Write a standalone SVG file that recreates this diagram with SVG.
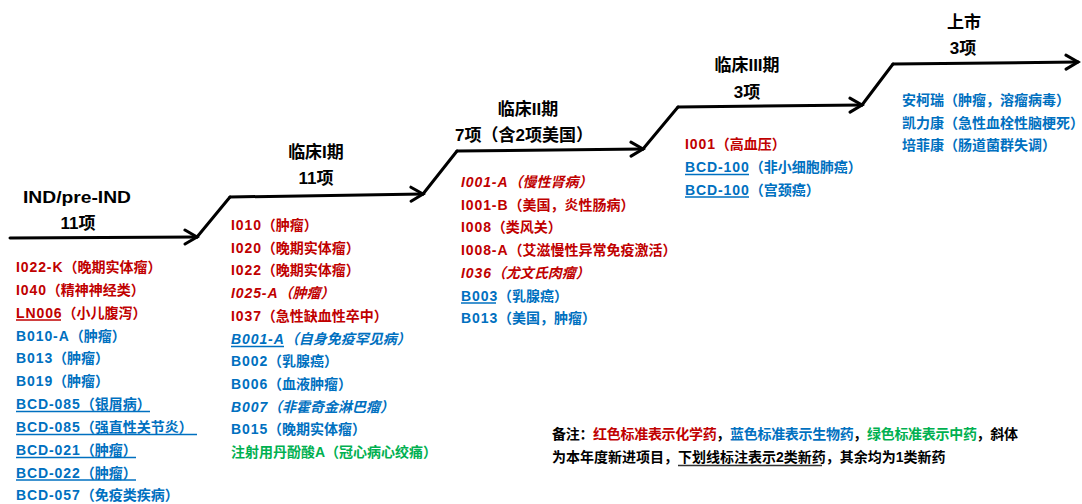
<svg xmlns="http://www.w3.org/2000/svg" width="1082" height="504" viewBox="0 0 1082 504">
<style>
text{font-family:"Liberation Sans","Noto Sans CJK SC",sans-serif;font-weight:bold;}
.h{font-size:17px;fill:#000;text-anchor:middle;}
.t{font-size:14px;}
.c{letter-spacing:0.9px;}
.r{fill:#c00000;}
.b{fill:#0070c0;}
.g{fill:#00b050;}
.k{fill:#000;}
.i{font-style:italic;}
.ul{stroke-width:1.3;}
.ur{stroke:#c00000;}
.ub{stroke:#0070c0;}
.uk{stroke:#333;}
</style>
<defs>
<marker id="arr" markerUnits="userSpaceOnUse" markerWidth="18" markerHeight="18" refX="14" refY="9" orient="auto">
<path d="M2,2 L14,9 L2,16" fill="none" stroke="#000" stroke-width="3" stroke-linecap="round" stroke-linejoin="miter"/>
</marker>
</defs>
<rect width="1082" height="504" fill="#fff"/>
<g id="connectors" fill="none" stroke="#000" stroke-width="3" stroke-linecap="round">
<path d="M10,238 L197,237" marker-end="url(#arr)"/>
<path d="M197,237 L230,197"/>
<path d="M230,197 L423,194" marker-end="url(#arr)"/>
<path d="M423,194 L457,151"/>
<path d="M457,151 L643,149" marker-end="url(#arr)"/>
<path d="M643,149 L678,107"/>
<path d="M678,107 L862,105" marker-end="url(#arr)"/>
<path d="M862,105 L893,64"/>
<path d="M893,64 L1078,62" marker-end="url(#arr)"/>
</g>
<g id="stage-ind">
<text class="h" x="77" y="203" textLength="108" lengthAdjust="spacingAndGlyphs">IND/pre-IND</text>
<text class="h" x="78" y="229">11项</text>
<g class="t">
<text class="r" x="16" y="272"><tspan class="c">I022-K</tspan>（晚期实体瘤）</text>
<text class="r" x="16" y="295"><tspan class="c">I040</tspan>（精神神经类）</text>
<text class="r" x="16" y="318"><tspan class="c">LN006</tspan>（小儿腹泻）</text>
<text class="b" x="16" y="340.5"><tspan class="c">B010-A</tspan>（肿瘤）</text>
<text class="b" x="16" y="363"><tspan class="c">B013</tspan>（肿瘤）</text>
<text class="b" x="16" y="386"><tspan class="c">B019</tspan>（肿瘤）</text>
<text class="b" x="16" y="409"><tspan class="c">BCD-085</tspan>（银屑病）</text>
<text class="b" x="16" y="432"><tspan class="c">BCD-085</tspan>（强直性关节炎）</text>
<text class="b" x="16" y="455"><tspan class="c">BCD-021</tspan>（肿瘤）</text>
<text class="b" x="16" y="477.5"><tspan class="c">BCD-022</tspan>（肿瘤）</text>
<text class="b" x="16" y="500"><tspan class="c">BCD-057</tspan>（免疫类疾病）</text>
</g>
<line class="ul ur" x1="16" y1="320" x2="61" y2="320"/>
<line class="ul ub" x1="16" y1="411.5" x2="150" y2="411.5"/>
<line class="ul ub" x1="16" y1="434.5" x2="197" y2="434.5"/>
<line class="ul ub" x1="16" y1="457.5" x2="136" y2="457.5"/>
<line class="ul ub" x1="16" y1="480" x2="136" y2="480"/>
</g>
<g id="stage-phase1">
<text class="h" x="316" y="158">临床I期</text>
<text class="h" x="316" y="184">11项</text>
<g class="t">
<text class="r" x="231" y="230"><tspan class="c">I010</tspan>（肿瘤）</text>
<text class="r" x="231" y="252.7"><tspan class="c">I020</tspan>（晚期实体瘤）</text>
<text class="r" x="231" y="275.4"><tspan class="c">I022</tspan>（晚期实体瘤）</text>
<text class="r i" x="231" y="298.1"><tspan class="c">I025-A</tspan>（肿瘤）</text>
<text class="r" x="231" y="320.8"><tspan class="c">I037</tspan>（急性缺血性卒中）</text>
<text class="b i" x="231" y="343.5"><tspan class="c">B001-A</tspan>（自身免疫罕见病）</text>
<text class="b" x="231" y="366.2"><tspan class="c">B002</tspan>（乳腺癌）</text>
<text class="b" x="231" y="388.9"><tspan class="c">B006</tspan>（血液肿瘤）</text>
<text class="b i" x="231" y="411.6"><tspan class="c">B007</tspan>（非霍奇金淋巴瘤）</text>
<text class="b" x="231" y="434.3"><tspan class="c">B015</tspan>（晚期实体瘤）</text>
<text class="g" x="231" y="457">注射用丹酚酸A（冠心病心绞痛）</text>
</g>
<line class="ul ub" x1="231" y1="346.5" x2="284" y2="346.5"/>
</g>
<g id="stage-phase2">
<text class="h" x="528" y="115">临床II期</text>
<text class="h" x="524" y="141">7项（含2项美国）</text>
<g class="t">
<text class="r i" x="461" y="186.5"><tspan class="c">I001-A</tspan>（慢性肾病）</text>
<text class="r" x="461" y="209.5"><tspan class="c">I001-B</tspan>（美国，炎性肠病）</text>
<text class="r" x="461" y="232"><tspan class="c">I008</tspan>（类风关）</text>
<text class="r" x="461" y="255"><tspan class="c">I008-A</tspan>（艾滋慢性异常免疫激活）</text>
<text class="r i" x="461" y="278"><tspan class="c">I036</tspan>（尤文氏肉瘤）</text>
<text class="b" x="461" y="300.5"><tspan class="c">B003</tspan>（乳腺癌）</text>
<text class="b" x="461" y="323"><tspan class="c">B013</tspan>（美国，肿瘤）</text>
</g>
<line class="ul ub" x1="461" y1="303" x2="496" y2="303"/>
</g>
<g id="stage-phase3">
<text class="h" x="747" y="71">临床III期</text>
<text class="h" x="747" y="98">3项</text>
<g class="t">
<text class="r" x="685" y="149"><tspan class="c">I001</tspan>（高血压）</text>
<text class="b" x="685" y="172"><tspan class="c">BCD-100</tspan>（非小细胞肺癌）</text>
<text class="b" x="685" y="194.5"><tspan class="c">BCD-100</tspan>（宫颈癌）</text>
</g>
<line class="ul ub" x1="685" y1="174.5" x2="749" y2="174.5"/>
<line class="ul ub" x1="685" y1="197" x2="749" y2="197"/>
</g>
<g id="stage-market">
<text class="h" x="964" y="28">上市</text>
<text class="h" x="963" y="54">3项</text>
<g class="t">
<text class="b" x="902" y="105">安柯瑞（肿瘤，溶瘤病毒）</text>
<text class="b" x="902" y="128">凯力康（急性血栓性脑梗死）</text>
<text class="b" x="902" y="150">培菲康（肠道菌群失调）</text>
</g>
</g>
<g id="note" class="t">
<text x="552" y="439" textLength="466" lengthAdjust="spacing"><tspan class="k">备注：</tspan><tspan class="r">红色标准表示化学药</tspan><tspan class="k">，</tspan><tspan class="b">蓝色标准表示生物药</tspan><tspan class="k">，</tspan><tspan class="g">绿色标准表示中药</tspan><tspan class="k">，斜体</tspan></text>
<text class="k" x="552" y="462">为本年度新进项目，下划线标注表示2类新药，其余均为1类新药</text>
<line class="ul uk" x1="678" y1="465.5" x2="822" y2="465.5"/>
</g>
</svg>
